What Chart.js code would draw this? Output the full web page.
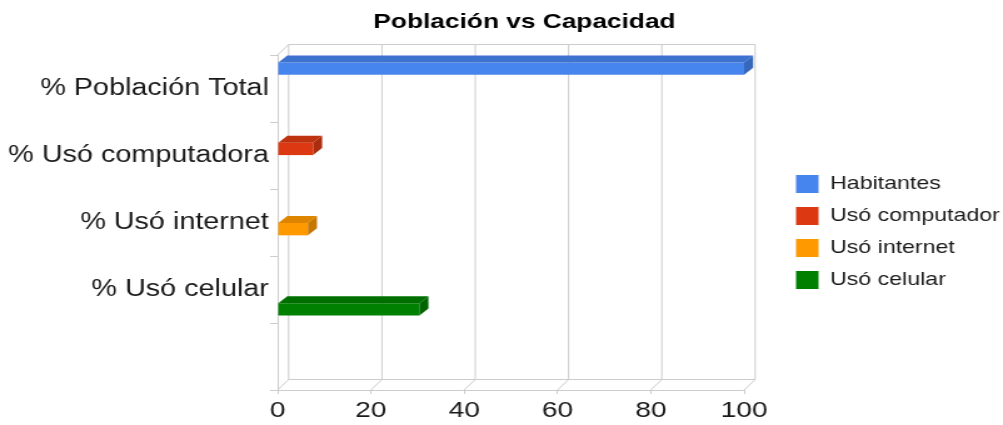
<!DOCTYPE html>
<html><head><meta charset="utf-8">
<script src="https://cdn.jsdelivr.net/npm/chart.js@4"></script>
<style>
html,body{margin:0;padding:0;background:#fff;overflow:hidden}
#c{display:block !important;width:1003px !important;height:425px !important}
</style></head><body>
<canvas id="c" width="802" height="425"></canvas>
<script>
const categories = ['% Población Total', '% Usó computadora', '% Usó internet', '% Usó celular', ''];
const seriesNames = ['Habitantes', 'Usó computador', 'Usó internet', 'Usó celular'];
const habitantes = [100, null, null, null, null];
const usoComputadora = [null, 7.6, null, null, null];
const usoInternet = [null, null, 6.5, null, null];
const usoCelular = [null, null, null, 30.4, null];
const xTicks = [0, 20, 40, 60, 80, 100];
const seriesColors = ['#4684ee', '#dc3912', '#ff9900', '#008000'];

const FONT = "'Liberation Sans', Arial, sans-serif";
const GDX = 8.8, GDY = 10.5, BDX = 7.2, BDY = 7;

function shade(hex, f) {
  const n = parseInt(hex.slice(1), 16);
  const r = Math.round(((n >> 16) & 255) * f), g = Math.round(((n >> 8) & 255) * f), b = Math.round((n & 255) * f);
  return 'rgb(' + r + ',' + g + ',' + b + ')';
}

const threeD = {
  id: 'threeD',
  afterInit(chart) {
    const lg = chart.legend;
    const fit = lg.fit.bind(lg);
    lg.fit = function () { fit(); this.width = 207; };
  },
  afterLayout(chart) {
    const lg = chart.legend;
    lg.left = 623; lg.top = 39;
    chart.titleBlock.left = 36.8;
  },
  beforeDatasetsDraw(chart) {
    const ctx = chart.ctx, xs = chart.scales.x, a = chart.chartArea;
    const x0 = xs.getPixelForValue(xTicks[0]), x1 = xs.getPixelForValue(xTicks[xTicks.length - 1]);
    const bt = a.top - GDY, bb = a.bottom - GDY;
    ctx.save();
    ctx.strokeStyle = '#cccccc'; ctx.lineWidth = 1;
    ctx.beginPath();
    xTicks.forEach(v => {
      const px = xs.getPixelForValue(v);
      ctx.moveTo(px + GDX, bt); ctx.lineTo(px + GDX, bb); ctx.lineTo(px, a.bottom);
    });
    ctx.moveTo(x0 + GDX, bt); ctx.lineTo(x1 + GDX, bt);
    ctx.moveTo(x0 + GDX, bb); ctx.lineTo(x1 + GDX, bb);
    ctx.moveTo(x0, a.top); ctx.lineTo(x0 + GDX, bt);
    ctx.stroke();
    ctx.restore();
  },
  afterDatasetsDraw(chart) {
    const ctx = chart.ctx;
    ctx.save();
    chart.data.datasets.forEach((ds, i) => {
      const meta = chart.getDatasetMeta(i);
      if (meta.hidden) return;
      meta.data.forEach((el, j) => {
        if (ds.data[j] == null) return;
        const p = el.getProps(['x', 'y', 'base', 'height'], true);
        const l = Math.min(p.x, p.base), r = Math.max(p.x, p.base);
        const t = p.y - p.height / 2, b = p.y + p.height / 2;
        ctx.fillStyle = shade(ds.backgroundColor, 0.87);
        ctx.beginPath(); ctx.moveTo(l, t); ctx.lineTo(l + BDX, t - BDY); ctx.lineTo(r + BDX, t - BDY); ctx.lineTo(r, t); ctx.closePath(); ctx.fill();
        ctx.fillStyle = shade(ds.backgroundColor, 0.78);
        ctx.beginPath(); ctx.moveTo(r, t); ctx.lineTo(r + BDX, t - BDY); ctx.lineTo(r + BDX, b - BDY); ctx.lineTo(r, b); ctx.closePath(); ctx.fill();
      });
    });
    ctx.restore();
  }
};

const seriesData = [habitantes, usoComputadora, usoInternet, usoCelular];

new Chart(document.getElementById('c'), {
  type: 'bar',
  data: {
    labels: categories,
    datasets: seriesNames.map((name, i) => ({
      label: name,
      data: seriesData[i],
      backgroundColor: seriesColors[i],
      borderWidth: 0,
      categoryPercentage: 0.79,
      barPercentage: 0.94
    }))
  },
  options: {
    indexAxis: 'y',
    responsive: false,
    maintainAspectRatio: false,
    animation: false,
    devicePixelRatio: 1,
    layout: { padding: 0 },
    scales: {
      x: {
        type: 'linear', position: 'bottom', min: 0, max: 100,
        afterBuildTicks(s) { s.ticks = xTicks.map(v => ({ value: v })); },
        grid: { drawOnChartArea: false, tickLength: 4, color: '#cccccc' },
        border: { color: '#cccccc' },
        ticks: { font: { family: FONT, size: 22.5 }, color: '#1a1a1a', padding: 3, maxRotation: 0 },
        afterFit(s) { s.height = 35; }
      },
      y: {
        type: 'category',
        grid: { drawOnChartArea: false, offset: true, tickLength: 6, color: '#cccccc' },
        border: { color: '#cccccc' },
        ticks: { font: { family: FONT, size: 23 }, color: '#1a1a1a', padding: 1, autoSkip: false },
        afterFit(s) { s.width = 222; }
      }
    },
    plugins: {
      title: {
        display: true, text: 'Población vs Capacidad', color: '#000',
        font: { family: FONT, size: 21, weight: 'bold' },
        padding: { top: 9.5, bottom: 20.3 }
      },
      legend: {
        position: 'right', align: 'center',
        labels: { font: { family: FONT, size: 18.5 }, color: '#1a1a1a', boxWidth: 18, boxHeight: 18, padding: 13.5 }
      },
      tooltip: { enabled: false }
    }
  },
  plugins: [threeD]
});
</script>
</body></html>
